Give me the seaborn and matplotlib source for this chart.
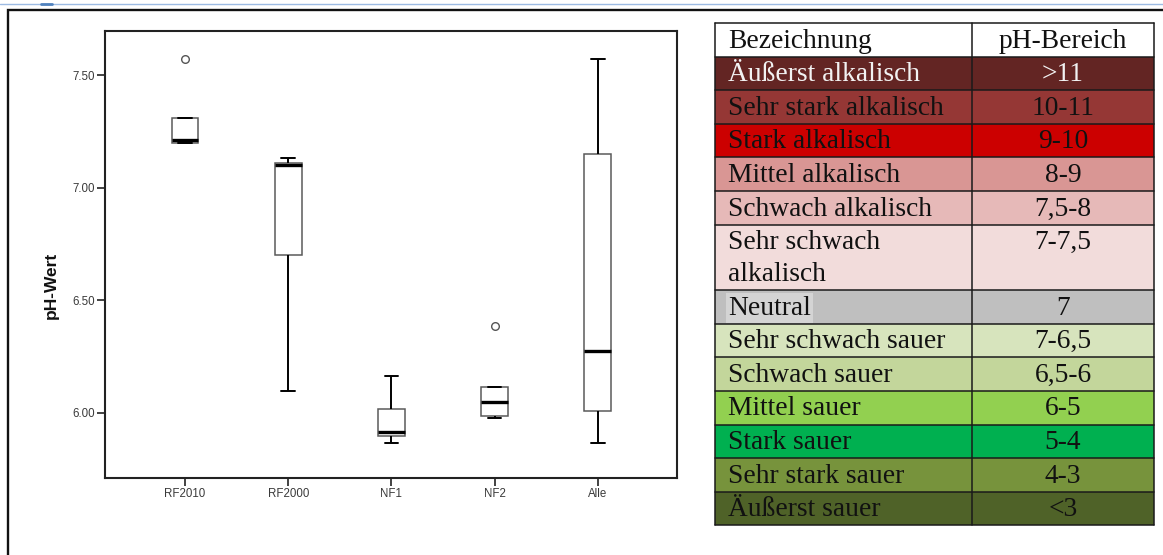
import matplotlib
matplotlib.use("Agg")
import numpy as np
import pandas as pd
import matplotlib.pyplot as plt
from matplotlib.patches import Rectangle
from matplotlib.lines import Line2D
import seaborn as sns

# pH-Messwerte je Fläche
rf2010 = [7.20, 7.20, 7.21, 7.31, 7.57]
rf2000 = [6.095, 6.70, 7.10, 7.11, 7.13]
nf1 = [5.866, 5.897, 5.915, 6.016, 6.163]
nf2 = [5.977, 5.985, 6.047, 6.115, 6.385]
gruppen = ["RF2010", "RF2000", "NF1", "NF2", "Alle"]
y_ticks = [6.00, 6.50, 7.00, 7.50]

# Einstufung der Bodenreaktion
kopf = ["Bezeichnung", "pH-Bereich"]
bezeichnung = ["Äußerst alkalisch", "Sehr stark alkalisch", "Stark alkalisch",
               "Mittel alkalisch", "Schwach alkalisch", "Sehr schwach\nalkalisch",
               "Neutral", "Sehr schwach sauer", "Schwach sauer", "Mittel sauer",
               "Stark sauer", "Sehr stark sauer", "Äußerst sauer"]
ph_bereich = [">11", "10-11", "9-10", "8-9", "7,5-8", "7-7,5", "7",
              "7-6,5", "6,5-6", "6-5", "5-4", "4-3", "<3"]
zeilen_farben = ["#632523", "#953735", "#CC0000", "#D99694", "#E6B9B8", "#F2DCDB",
                 "#BFBFBF", "#D7E4BD", "#C3D69B", "#92D050", "#00B050", "#77933C",
                 "#4F6228"]

W, H = 1163, 555
sns.set_theme(style="white")
plt.rcParams["font.family"] = ["Liberation Sans", "DejaVu Sans"]

fig = plt.figure(figsize=(W / 100, H / 100), dpi=100)
fig.patch.set_facecolor("white")

# Hintergrund-Ebene in Pixelkoordinaten für Rahmen und Tabelle
bg = fig.add_axes([0, 0, 1, 1])
bg.set_xlim(0, W)
bg.set_ylim(H, 0)
bg.axis("off")

bg.add_line(Line2D([0, W], [4, 4], color="#9DBBE3", lw=1.0))
bg.add_line(Line2D([41, 52], [3.5, 3.5], color="#4F81BD", lw=2.0))
bg.add_line(Line2D([8, 8, W], [H, 10, 10], color="#111111", lw=1.7,
                   solid_joinstyle="miter"))

# Tabelle
x0, xm, x1 = 715, 972, 1154
unit, double = 33.6, 65.5
top = 23
serif = ["Liberation Serif", "DejaVu Serif"]
fs = 19.8

rows = [(kopf[0], kopf[1], "white")] + list(zip(bezeichnung, ph_bereich, zeilen_farben))
y = top
bounds = [y]
for i, (name, rng, col) in enumerate(rows):
    n_lines = name.count("\n") + 1
    h = unit if n_lines == 1 else double
    bg.add_patch(Rectangle((x0, y), x1 - x0, h, facecolor=col, edgecolor="none"))
    txt_col = "#F2F2F2" if col == "#632523" else "#111111"
    for k, line in enumerate(name.split("\n")):
        bbox = None
        if line == "Neutral":
            bbox = dict(facecolor="#D4D4D4", edgecolor="none", pad=1.5)
        bg.text(x0 + 13, y + 24.5 + k * 32, line, fontsize=fs, family=serif,
                color=txt_col, va="baseline", ha="left", bbox=bbox)
    bg.text((xm + x1) / 2, y + 24.5, rng, fontsize=fs, family=serif,
            color=txt_col, va="baseline", ha="center")
    y += h
    bounds.append(y)

for yb in bounds:
    bg.add_line(Line2D([x0, x1], [yb, yb], color="#1a1a1a", lw=1.1))
for xb in (x0, xm, x1):
    bg.add_line(Line2D([xb, xb], [bounds[0], bounds[-1]], color="#1a1a1a", lw=1.1))

# Boxplot
werte = {"RF2010": rf2010, "RF2000": rf2000, "NF1": nf1, "NF2": nf2}
werte["Alle"] = rf2010 + rf2000 + nf1 + nf2
df = pd.DataFrame([(g, v) for g in gruppen for v in werte[g]],
                  columns=["Gruppe", "pH"])

ax_l, ax_r, ax_t, ax_b = 105, 677, 31, 478
ax = fig.add_axes([ax_l / W, 1 - ax_b / H, (ax_r - ax_l) / W, (ax_b - ax_t) / H])
sns.boxplot(data=df, x="Gruppe", y="pH", order=gruppen, ax=ax, width=0.26,
            color="white", linecolor="black", whis=1.5,
            boxprops=dict(facecolor="white", edgecolor="#5a5a5a", linewidth=1.1),
            medianprops=dict(color="black", linewidth=2.4),
            whiskerprops=dict(color="black", linewidth=1.4),
            capprops=dict(color="black", linewidth=1.4),
            flierprops=dict(marker="o", markerfacecolor="none",
                            markeredgecolor="#555555", markersize=5.5,
                            markeredgewidth=1.0))

ax.set_xlim(-0.775, 4.767)
ax.set_ylim(5.709, 7.696)
ax.set_yticks(y_ticks)
ax.set_yticklabels([f"{t:.2f}" for t in y_ticks])
ax.set_xlabel("")
ax.set_ylabel("pH-Wert", fontsize=12.5, fontweight="bold", color="#111111")
ax.yaxis.set_label_coords(-0.080, 0.432)
ax.tick_params(axis="both", which="major", direction="out", length=5.5, width=1.2,
               color="#222222", labelsize=8.3, labelcolor="#3a3a3a", pad=1.5,
               bottom=True, left=True)
for s in ax.spines.values():
    s.set_visible(True)
    s.set_color("#222222")
    s.set_linewidth(1.5)
ax.set_facecolor("white")
ax.grid(False)

fig.savefig("out.png", dpi=100, facecolor="white")
